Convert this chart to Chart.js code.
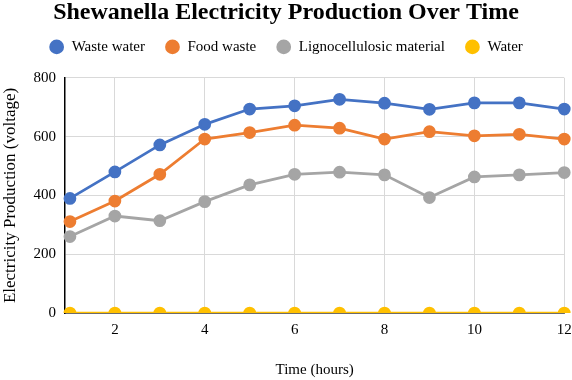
<!DOCTYPE html>
<html>
<head>
<meta charset="utf-8">
<script src="https://cdn.jsdelivr.net/npm/chart.js@4/dist/chart.umd.min.js"></script>
<style>
  html, body { margin: 0; padding: 0; background: #ffffff; }
  #wrap { width: 572px; height: 380px; position: relative; }
</style>
</head>
<body>
<div id="wrap"><canvas id="c" width="572" height="380"></canvas></div>
<script>
const hours = [1, 2, 3, 4, 5, 6, 7, 8, 9, 10, 11, 12];
const wasteWater = [390, 480, 572, 642, 694, 705, 727, 714, 693, 715, 715, 694];
const foodWaste = [311, 381, 472, 592, 614, 639, 629, 592, 617, 603, 608, 592];
const lignocellulosic = [260, 330, 314, 379, 436, 472, 479, 470, 393, 463, 470, 478];
const water = [0, 0, 0, 0, 0, 0, 0, 0, 0, 0, 0, 0];
const xTicks = [2, 4, 6, 8, 10, 12];
const yTicks = [0, 200, 400, 600, 800];

const SERIF = "'Liberation Serif', 'Times New Roman', 'DejaVu Serif', serif";

function pts(vals) { return hours.map((h, i) => ({ x: h, y: vals[i] })); }
function ds(label, vals, color) {
  return {
    label: label,
    data: pts(vals),
    borderColor: color,
    backgroundColor: color,
    pointBackgroundColor: color,
    pointBorderColor: color,
    borderWidth: 2.75,
    pointRadius: 5,
    pointHoverRadius: 5,
    tension: 0,
    clip: { left: 10, top: 10, right: 10, bottom: 0 }
  };
}

// adds space between the legend and the plot area
const legendGap = {
  id: 'legendGap',
  beforeLayout(chart) {
    const lg = chart.legend;
    if (lg && !lg._gapPatched) {
      const orig = lg.fit;
      lg.fit = function () { orig.call(this); this.height += 13.5; };
      lg._gapPatched = true;
    }
  }
};

new Chart(document.getElementById('c'), {
  type: 'line',
  data: {
    datasets: [
      ds('Waste water', wasteWater, '#4472C4'),
      ds('Food waste', foodWaste, '#ED7D31'),
      ds('Lignocellulosic material', lignocellulosic, '#A5A5A5'),
      ds('Water', water, '#FFC000')
    ]
  },
  plugins: [legendGap],
  options: {
    responsive: false,
    animation: false,
    layout: { padding: { left: 0, right: 0, top: 0, bottom: 0 } },
    plugins: {
      title: {
        display: true,
        text: 'Shewanella Electricity Production Over Time',
        color: '#000000',
        font: { family: SERIF, size: 24, weight: 'bold', lineHeight: 1.1 },
        padding: { top: 0, bottom: -7 }
      },
      legend: {
        display: true,
        labels: {
          usePointStyle: true,
          pointStyle: 'circle',
          boxWidth: 15,
          boxHeight: 8.5,
          padding: 20,
          color: '#000000',
          font: { family: SERIF, size: 15 }
        }
      },
      tooltip: { enabled: false }
    },
    scales: {
      x: {
        type: 'linear',
        min: 0.89,
        max: 12,
        afterBuildTicks: (scale) => { scale.ticks = xTicks.map(v => ({ value: v })); },
        afterFit: (scale) => { scale.height = 67; scale.paddingRight = 7; scale.paddingLeft = 0; },
        grid: { color: '#d9d9d9', lineWidth: 1, drawTicks: false },
        border: { color: '#000000', width: 1.5 },
        ticks: { color: '#000000', font: { family: SERIF, size: 15 }, padding: 8, maxRotation: 0 },
        title: {
          display: true,
          text: 'Time (hours)',
          color: '#000000',
          font: { family: SERIF, size: 15 },
          padding: { top: 0, bottom: 1 }
        }
      },
      y: {
        min: 0,
        max: 800,
        afterBuildTicks: (scale) => { scale.ticks = yTicks.map(v => ({ value: v })); },
        afterFit: (scale) => { scale.width = 65; },
        grid: { color: '#d9d9d9', lineWidth: 1, drawTicks: false },
        border: { color: '#000000', width: 1.5 },
        ticks: { color: '#000000', font: { family: SERIF, size: 15 }, padding: 9 },
        title: {
          display: true,
          text: 'Electricity Production (voltage)',
          color: '#000000',
          font: { family: SERIF, size: 17 },
          padding: { top: 0, bottom: 0 }
        }
      }
    }
  }
});
</script>
</body>
</html>
